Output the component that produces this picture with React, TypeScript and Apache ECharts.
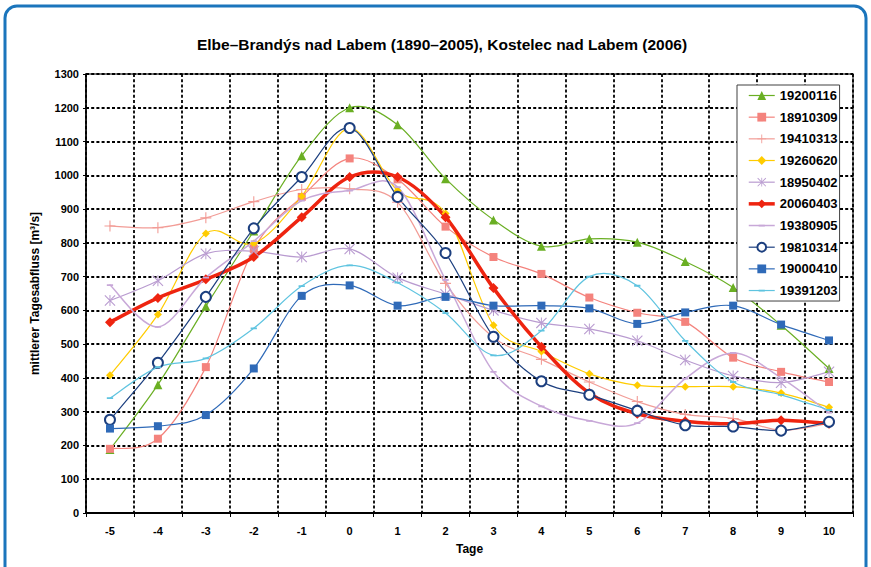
import React, { useEffect, useRef } from "react";
import * as echarts from "echarts";

const titleText = "Elbe–Brandýs nad Labem (1890–2005), Kostelec nad Labem (2006)";
const xName = "Tage";
const yName = "mittlerer Tagesabfluss [m³/s]";

const categories = ["-5", "-4", "-3", "-2", "-1", "0", "1", "2", "3", "4", "5", "6", "7", "8", "9", "10"];

const s19200116 = [188, 380, 612, 835, 1058, 1200, 1150, 990, 868, 790, 812, 802, 745, 668, 556, 428];
const s18910309 = [190, 220, 432, 782, 936, 1050, 988, 848, 758, 708, 638, 593, 566, 460, 418, 388];
const s19410313 = [850, 845, 874, 922, 958, 960, 920, 680, 520, 455, 388, 330, 292, 280, 245, 265];
const s19260620 = [408, 588, 828, 798, 938, 1140, 954, 887, 556, 478, 412, 378, 374, 374, 355, 313];
const s18950402 = [629, 688, 768, 775, 758, 782, 697, 648, 600, 563, 545, 510, 453, 406, 386, 418];
const s20060403 = [565, 637, 692, 758, 876, 995, 995, 876, 666, 492, 355, 294, 272, 264, 275, 265];
const s19380905 = [675, 551, 697, 805, 925, 955, 965, 690, 418, 316, 273, 266, 398, 474, 400, 297];
const s19810314 = [276, 445, 640, 843, 995, 1140, 936, 770, 522, 390, 350, 303, 260, 256, 244, 270];
const s19000410 = [250, 257, 290, 428, 643, 674, 614, 640, 614, 614, 606, 560, 594, 614, 558, 511];
const s19391203 = [340, 432, 458, 547, 672, 733, 682, 592, 467, 540, 700, 673, 510, 388, 350, 305];

const PLUS = "path://M4.5,0H5.5V4.5H10V5.5H5.5V10H4.5V5.5H0V4.5H4.5Z";
const ASTER =
  "path://M0,0.7L0.7,0L10,9.3L9.3,10Z M10,0.7L9.3,0L0,9.3L0.7,10Z M4.55,0H5.45V10H4.55Z";
// short horizontal dash inside a square box (degenerate corner points keep the box square)
const DASH = "path://M0,0L0.01,0L0,0.01Z M10,10L9.99,10L10,9.99Z M1.5,4H8.5V6H1.5Z";

const FONT = "'Liberation Sans', Arial, sans-serif";

type Spec = {
  name: string;
  data: number[];
  color: string;
  width: number;
  symbol: string;
  size: number;
};

const specs: Spec[] = [
  { name: "19200116", data: s19200116, color: "#6aaf23", width: 1.2, symbol: "triangle", size: 9 },
  { name: "18910309", data: s18910309, color: "#f4837d", width: 1.2, symbol: "rect", size: 8 },
  { name: "19410313", data: s19410313, color: "#f29c96", width: 1.2, symbol: PLUS, size: 11 },
  { name: "19260620", data: s19260620, color: "#ffcc00", width: 1.2, symbol: "diamond", size: 8 },
  { name: "18950402", data: s18950402, color: "#b99bd0", width: 1.2, symbol: ASTER, size: 11 },
  { name: "20060403", data: s20060403, color: "#ee2410", width: 3.5, symbol: "diamond", size: 10 },
  { name: "19380905", data: s19380905, color: "#c8a8d8", width: 1.5, symbol: DASH, size: 9 },
  { name: "19810314", data: s19810314, color: "#1c3f7f", width: 1.2, symbol: "emptyCircle", size: 10 },
  { name: "19000410", data: s19000410, color: "#2f6ab8", width: 1.2, symbol: "rect", size: 8 },
  { name: "19391203", data: s19391203, color: "#5fc4e0", width: 1.2, symbol: DASH, size: 9 },
];

function curveSeries(s: Spec) {
  const n = s.data.length;
  return {
    type: "custom",
    silent: true,
    data: s.data.map((v, i) => [i, v]),
    encode: { x: 0, y: 1 },
    renderItem: (params: any, api: any) => {
      const i = params.dataIndex;
      if (i >= n - 1) return { type: "group", children: [] };
      const pt = (j: number) => {
        const k = Math.max(0, Math.min(n - 1, j));
        return api.coord([k, s.data[k]]);
      };
      const p0 = pt(i - 1);
      const p1 = pt(i);
      const p2 = pt(i + 1);
      const p3 = pt(i + 2);
      const t = 1 / 6;
      return {
        type: "bezierCurve",
        shape: {
          x1: p1[0],
          y1: p1[1],
          cpx1: p1[0] + (p2[0] - p0[0]) * t,
          cpy1: p1[1] + (p2[1] - p0[1]) * t,
          cpx2: p2[0] - (p3[0] - p1[0]) * t,
          cpy2: p2[1] - (p3[1] - p1[1]) * t,
          x2: p2[0],
          y2: p2[1],
        },
        style: { stroke: s.color, lineWidth: s.width, fill: null, lineJoin: "round", lineCap: "round" },
      };
    },
  };
}

export default function App() {
  const ref = useRef<HTMLDivElement>(null);

  useEffect(() => {
    if (!ref.current) return;
    const chart = echarts.init(ref.current, undefined, { renderer: "svg" });
    const dotted = { color: "#000", width: 1.8, type: [3, 2.2] as number[] };
    const series: any[] = [];
    specs.forEach((s) => {
      series.push(curveSeries(s));
      series.push({
        name: s.name,
        type: "line",
        data: s.data,
        symbol: s.symbol,
        symbolSize: s.size,
        showAllSymbol: true,
        lineStyle: { color: s.color, width: 0 },
        itemStyle: {
          color: s.color,
          borderColor: s.color,
          borderWidth: s.symbol === "emptyCircle" ? 1.3 : 0,
        },
        emphasis: { disabled: true },
      });
    });
    chart.setOption({
      animation: false,
      backgroundColor: "#ffffff",
      textStyle: { fontFamily: FONT },
      title: {
        text: titleText,
        left: 442,
        textAlign: "center",
        top: 36,
        padding: 0,
        textStyle: { fontFamily: FONT, fontSize: 15.5, fontWeight: "bold", color: "#000" },
      },
      graphic: [
        {
          type: "rect",
          z: -1,
          shape: { x: 5, y: 6, width: 861, height: 640, r: 12 },
          style: { fill: "none", stroke: "#1b75bc", lineWidth: 3 },
        },
      ],
      legend: {
        orient: "vertical",
        left: 737,
        top: 85,
        padding: [4, 2, 4, 10],
        itemWidth: 26,
        itemHeight: 11,
        itemGap: 8.67,
        backgroundColor: "#fff",
        borderColor: "#404040",
        borderWidth: 1,
        textStyle: { fontFamily: FONT, fontSize: 13, fontWeight: "bold", color: "#000" },
        data: specs.map((s) => ({
          name: s.name,
          lineStyle: { width: s.width, color: s.color, opacity: 1 },
          itemStyle: { opacity: 1 },
        })),
      },
      grid: {
        left: 86,
        right: 18,
        top: 74,
        bottom: 54,
        show: true,
        borderColor: "#4a4a4a",
        borderWidth: 1.5,
      },
      xAxis: {
        type: "category",
        data: categories,
        boundaryGap: true,
        name: xName,
        nameLocation: "middle",
        nameGap: 30,
        nameTextStyle: { fontFamily: FONT, fontSize: 12, fontWeight: "bold", color: "#000" },
        axisLine: { show: true, lineStyle: { color: "#000", width: 2 } },
        axisTick: { show: true, length: 4, inside: false, interval: 0, lineStyle: { color: "#000", width: 1 } },
        axisLabel: { margin: 12, fontFamily: FONT, fontSize: 11, fontWeight: "bold", color: "#000", interval: 0 },
        splitLine: { show: true, interval: 0, lineStyle: dotted },
      },
      yAxis: {
        type: "value",
        min: 0,
        max: 1300,
        interval: 100,
        name: yName,
        nameLocation: "middle",
        nameGap: 45,
        nameTextStyle: { fontFamily: FONT, fontSize: 12, fontWeight: "bold", color: "#000" },
        axisLine: { show: true, lineStyle: { color: "#000", width: 1.5 } },
        axisTick: { show: true, length: 3, inside: false, lineStyle: { color: "#000", width: 1 } },
        axisLabel: {
          margin: 7,
          fontFamily: FONT,
          fontSize: 11,
          fontWeight: "bold",
          color: "#000",
          formatter: (v: number) => String(v),
        },
        splitLine: { show: true, lineStyle: dotted },
      },
      series,
    });
    return () => chart.dispose();
  }, []);

  return (
    <div
      ref={ref}
      style={{ position: "fixed", left: 0, top: 0, width: 871, height: 567, background: "#fff" }}
    />
  );
}
